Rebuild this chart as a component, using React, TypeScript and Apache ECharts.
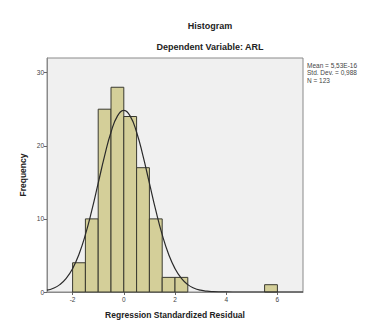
import React, { useEffect, useRef } from "react";
import * as echarts from "echarts";

// Histogram bins (start of bin, width 0.5) and frequencies
const binStarts = [-2, -1.5, -1, -0.5, 0, 0.5, 1, 1.5, 2, 5.5];
const binWidth = 0.5;
const counts = [4, 10, 25, 28, 24, 17, 10, 2, 2, 1];

// Normal curve (read/estimated, N=123, sd=0.988)
const curveX = [-3, -2.75, -2.5, -2.25, -2, -1.75, -1.5, -1.25, -1, -0.75, -0.5, -0.25, 0, 0.25, 0.5, 0.75, 1, 1.25, 1.5, 1.75, 2, 2.25, 2.5, 2.75, 3, 3.25, 3.5, 3.75, 4, 4.5, 5, 6, 7];
const curveY = [0.25, 0.52, 1.01, 1.86, 3.2, 5.17, 7.84, 11.15, 14.88, 18.61, 21.85, 24.05, 24.83, 24.05, 21.85, 18.61, 14.88, 11.15, 7.84, 5.17, 3.2, 1.86, 1.01, 0.52, 0.25, 0.11, 0.05, 0.02, 0.01, 0, 0, 0, 0];

const xTicks = [-2, 0, 2, 4, 6];
const yTicks = [0, 10, 20, 30];

const statsLines = ["Mean = 5,53E-16", "Std. Dev. = 0,988", "N = 123"];

export default function App() {
  const ref = useRef<HTMLDivElement>(null);
  useEffect(() => {
    if (!ref.current) return;
    const chart = echarts.init(ref.current, null, { renderer: "svg" });
    const font = "Liberation Sans, Arial, sans-serif";
    chart.setOption({
      animation: false,
      textStyle: { fontFamily: font },
      title: [
        { text: "Histogram", left: 205, top: 16, textAlign: "center", textStyle: { fontSize: 9, fontWeight: "bold", color: "#222", fontFamily: font } },
        { text: "Dependent Variable: ARL", left: 205, top: 37, textAlign: "center", textStyle: { fontSize: 9, fontWeight: "bold", color: "#222", fontFamily: font } },
      ],
      graphic: [
        {
          type: "text",
          left: 307,
          top: 62,
          style: { text: statsLines.join("\n"), fontSize: 6.5, lineHeight: 7.2, fill: "#444", fontFamily: font },
        },
      ],
      grid: { left: 47, right: 83, top: 58, bottom: 33, show: true, backgroundColor: "#f0f0f0", borderColor: "#8a8a8a", borderWidth: 1 },
      xAxis: {
        type: "value",
        min: -3,
        max: 7,
        name: "Regression Standardized Residual",
        nameLocation: "middle",
        nameGap: 18,
        nameTextStyle: { fontSize: 8.5, fontWeight: "bold", color: "#222" },
        axisLine: { show: true, onZero: false, lineStyle: { color: "#8a8a8a" } },
        axisTick: { show: true, length: 3, lineStyle: { color: "#666" }, customValues: xTicks },
        axisLabel: { fontSize: 6.5, color: "#444", margin: 4, customValues: xTicks },
        splitLine: { show: false },
      },
      yAxis: {
        type: "value",
        min: 0,
        max: 32,
        name: "Frequency",
        nameLocation: "middle",
        nameGap: 20,
        nameMoveOverlap: false,
        nameTextStyle: { fontSize: 8.5, fontWeight: "bold", color: "#222" },
        axisLine: { show: true, onZero: false, lineStyle: { color: "#8a8a8a" } },
        axisTick: { show: true, length: 3, lineStyle: { color: "#666" }, customValues: yTicks },
        axisLabel: { fontSize: 6.5, color: "#444", margin: 3, customValues: yTicks },
        splitLine: { show: false },
      },
      series: [
        {
          type: "custom",
          data: binStarts.map((s, i) => [s, counts[i]]),
          renderItem: (params: any, api: any) => {
            const x0 = api.value(0);
            const h = api.value(1);
            const p0 = api.coord([x0, 0]);
            const p1 = api.coord([x0 + binWidth, h]);
            return {
              type: "rect",
              shape: { x: p0[0], y: p1[1], width: p1[0] - p0[0], height: p0[1] - p1[1] },
              style: { fill: "#d4cf99", stroke: "#3a3a30", lineWidth: 1 },
            };
          },
          encode: { x: 0, y: 1 },
          z: 2,
        },
        {
          type: "line",
          data: curveX.map((x, i) => [x, curveY[i]]),
          showSymbol: false,
          smooth: true,
          lineStyle: { color: "#2a2a2a", width: 1.2 },
          z: 3,
        },
      ],
    });
    return () => chart.dispose();
  }, []);
  return <div ref={ref} style={{ position: "absolute", left: 0, top: 0, width: 386, height: 325 }} />;
}
